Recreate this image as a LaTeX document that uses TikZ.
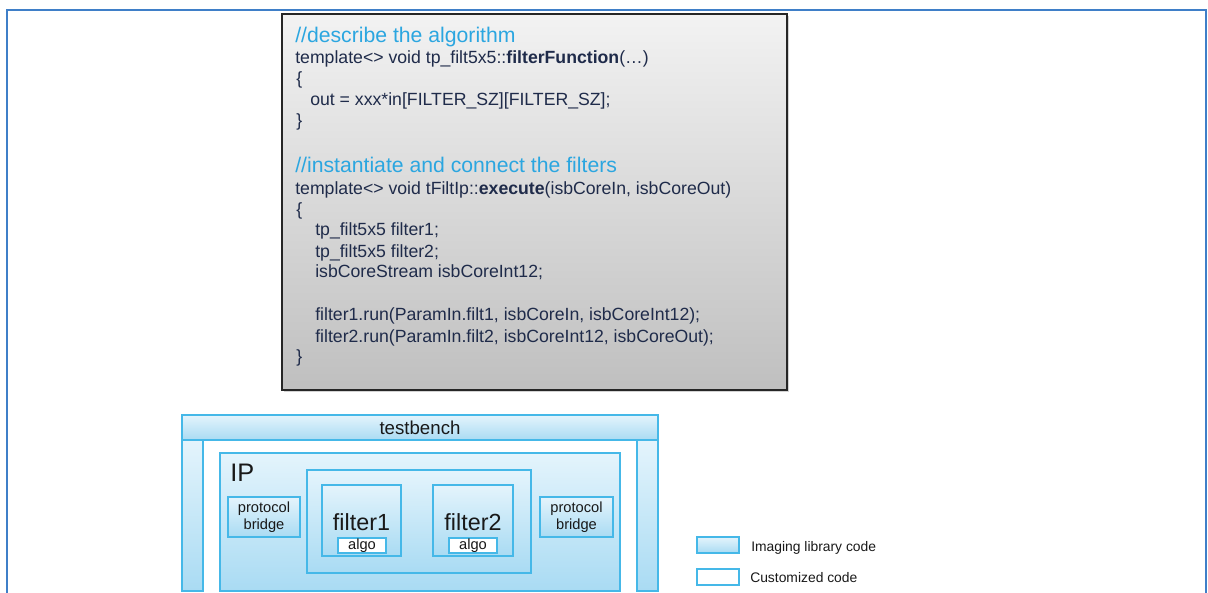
\documentclass[tikz,border=0pt]{standalone}
\usepackage{fontspec}
\setmainfont{Liberation Sans}
\usetikzlibrary{fit,shadows}
\definecolor{frameblue}{HTML}{3F7FC8}
\definecolor{codeink}{HTML}{1F2B4A}
\definecolor{cmtblue}{HTML}{2BA6E0}
\definecolor{libedge}{HTML}{45B8E8}
\definecolor{libtop}{HTML}{E4F4FC}
\definecolor{libbot}{HTML}{A9DBF3}
\tikzset{
  x=0.75pt, y=-0.75pt,
  codebox/.style={draw=black!85, line width=1.3pt, top color=black!5, bottom color=black!25,
    inner sep=0pt, drop shadow={opacity=0.35, shadow xshift=1.6pt, shadow yshift=-1.6pt}},
  codeline/.style={anchor=base west, inner sep=0pt, text=codeink, font=\fontsize{13.25}{15}\selectfont},
  cmtline/.style={anchor=base west, inner sep=0pt, text=cmtblue, font=\fontsize{15.9}{18}\selectfont},
  libbox/.style={draw=libedge, line width=2pt, top color=libtop, bottom color=libbot,
    inner sep=0pt, drop shadow={opacity=0.25, shadow xshift=0.9pt, shadow yshift=-0.9pt}},
  custbox/.style={draw=libedge, line width=2pt, fill=white, inner sep=0pt},
  lbl/.style={inner sep=0pt, text=black!90},
}
\begin{document}
\begin{tikzpicture}
\useasboundingbox (0,0) rectangle (1208,593);
% page frame, open at the bottom
\coordinate (fbl) at (7,596);
\coordinate (ftl) at (7,10);
\coordinate (ftr) at (1206,10);
\coordinate (fbr) at (1206,596);
\draw[frameblue, line width=1.1pt] (fbl) -- (ftl) -- (ftr) -- (fbr);

% code listing
\node[codebox, fit={(282,14) (787,390)}] (code) {};
\node[cmtline]  (c1)  at (295,42)  {//describe the algorithm};
\node[codeline] (c2)  at (295,63)  {template<> void tp\_filt5x5::\textbf{filterFunction}(…)};
\node[codeline] (c3)  at (296,84)  {\{};
\node[codeline] (c4)  at (310,105) {out = xxx*in[FILTER\_SZ][FILTER\_SZ];};
\node[codeline] (c5)  at (296,126) {\}};
\node[cmtline]  (c6)  at (295,172) {//instantiate and connect the filters};
\node[codeline] (c7)  at (295,194) {template<> void tFiltIp::\textbf{execute}(isbCoreIn, isbCoreOut)};
\node[codeline] (c8)  at (296,215) {\{};
\node[codeline] (c9)  at (315,235) {tp\_filt5x5 filter1;};
\node[codeline] (c10) at (315,257) {tp\_filt5x5 filter2;};
\node[codeline] (c11) at (315,277) {isbCoreStream isbCoreInt12;};
\node[codeline] (c12) at (315,320) {filter1.run(ParamIn.filt1, isbCoreIn, isbCoreInt12);};
\node[codeline] (c13) at (315,342) {filter2.run(ParamIn.filt2, isbCoreInt12, isbCoreOut);};
\node[codeline] (c14) at (296,362) {\}};

% testbench frame
\node[libbox, fit={(182,440) (203,591)}] (tbl) {};
\node[libbox, fit={(637,440) (658,591)}] (tbr) {};
\node[libbox, fit={(182,415) (658,440)}] (tb) {};
\node[lbl, font=\fontsize{14}{16}\selectfont] (tbtxt) at (tb.center) {testbench};

% IP block
\node[libbox, fit={(220,453) (620,591)}] (ip) {};
\node[lbl, anchor=west, font=\fontsize{19}{22}\selectfont] (iptxt) at (230,473) {IP};

% protocol bridges
\node[libbox, fit={(228,497) (300,537)}] (pbl) {};
\node[lbl, align=center, font=\fontsize{11}{12.5}\selectfont] (pbltxt) at (pbl.center) {protocol\\bridge};
\node[libbox, fit={(540,497) (613,537)}] (pbr) {};
\node[lbl, align=center, font=\fontsize{11}{12.5}\selectfont] (pbrtxt) at (pbr.center) {protocol\\bridge};

% filter core
\node[libbox, fit={(307,470) (531,573)}] (core) {};
\node[libbox, fit={(322,485) (401,556)}] (f1) {};
\node[lbl, font=\fontsize{17.5}{20}\selectfont] (f1txt) at (361.5,522) {filter1};
\node[custbox, fit={(338,538) (386,553)}] (a1) {};
\node[lbl, font=\fontsize{11}{12}\selectfont] (a1txt) at (a1.center) {algo};
\node[libbox, fit={(433,485) (513,556)}] (f2) {};
\node[lbl, font=\fontsize{17.5}{20}\selectfont] (f2txt) at (473,522) {filter2};
\node[custbox, fit={(449,538) (497,553)}] (a2) {};
\node[lbl, font=\fontsize{11}{12}\selectfont] (a2txt) at (a2.center) {algo};

% legend
\node[libbox, fit={(697,537) (739,553)}] (lg1) {};
\node[lbl, anchor=west, font=\fontsize{10.4}{12}\selectfont] (lg1txt) at (751,548) {Imaging library code};
\node[custbox, fit={(697,569) (739,585)}] (lg2) {};
\node[lbl, anchor=west, font=\fontsize{10.4}{12}\selectfont] (lg2txt) at (750,578) {Customized code};
\end{tikzpicture}
\end{document}
